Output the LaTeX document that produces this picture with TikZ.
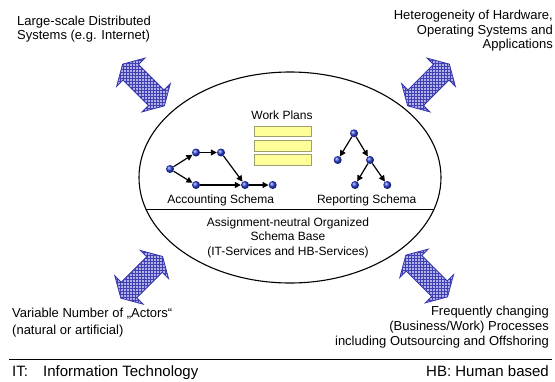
\documentclass[tikz,border=0pt]{standalone}
\usepackage{fontspec}
\setmainfont{Liberation Sans}
\usetikzlibrary{arrows.meta,patterns}
\definecolor{arrblue}{RGB}{51,51,170}
\definecolor{gridblue}{RGB}{64,64,178}
\definecolor{arrfill}{RGB}{178,178,232}
\definecolor{dotblue}{RGB}{40,60,215}
\definecolor{barfill}{RGB}{255,255,153}
\definecolor{barline}{RGB}{160,160,110}
\newcommand\dblarrow[3]{%
  \draw[blockarrow, shift={(#1,#2)}, rotate=#3]
    (29.5,0) -- (18,20) -- (18,11) -- (-18,11) -- (-18,20) -- (-29.5,0)
    -- (-18,-20) -- (-18,-11) -- (18,-11) -- (18,-20) -- cycle;}
\begin{document}
\begin{tikzpicture}[x=1pt,y=-1pt,
  lbl/.style={inner sep=0pt, font=\fontsize{13}{15}\selectfont},
  ilbl/.style={inner sep=0pt, font=\fontsize{12}{14}\selectfont},
  flbl/.style={inner sep=0pt, font=\fontsize{15}{17}\selectfont},
  dot/.style={circle, inner sep=0pt, minimum size=8pt, ball color=dotblue},
  flow/.style={-{Triangle[length=6pt,width=6pt]}, line width=1.2pt},
  bar/.style={draw=barline, fill=barfill, line width=0.6pt, minimum width=57.4pt, minimum height=10.6pt, inner sep=0pt},
  blockarrow/.style={draw=arrblue, line width=0.8pt, fill=arrfill, postaction={pattern=grid, pattern color=gridblue}}
]
\useasboundingbox (0,0) rectangle (555,381);
\fill[white] (0,0) rectangle (555,381);

% block arrows (TikZ rotate is counter-clockwise on the page)
\dblarrow{143.5}{85}{-45}
\dblarrow{428.5}{85}{45}
\dblarrow{141.7}{277.3}{45}
\dblarrow{426.7}{276}{-45}

% ellipse
\coordinate (ctr) at (290,177.5);
\draw[line width=1.1pt] (ctr) ellipse [x radius=151pt, y radius=105.5pt];
\begin{scope}
  \clip (ctr) ellipse [x radius=151pt, y radius=105.5pt];
  \coordinate (sepl) at (130,209);
  \coordinate (sepr) at (450,209);
  \draw[line width=0.9pt] (sepl) -- (sepr);
\end{scope}

% work plans
\node[ilbl, anchor=base] (wp) at (282,119.3) {Work Plans};
\node[bar] (b1) at (283,131.3) {};
\node[bar] (b2) at (283,145.5) {};
\node[bar] (b3) at (283,159.7) {};

% accounting schema
\node[dot] (A) at (170,169) {};
\node[dot] (B) at (196,152.5) {};
\node[dot] (C) at (221,152.5) {};
\node[dot] (D) at (196,185) {};
\node[dot] (E) at (245,185) {};
\node[dot] (F) at (272.7,185) {};
\draw[flow] (A) -- (B);
\draw[flow] (A) -- (D);
\draw[flow] (B) -- (C);
\draw[flow] (C) -- (E);
\draw[flow] (D) -- (E);
\draw[flow] (E) -- (F);
\node[ilbl, anchor=base] (acc) at (220.7,203.3) {Accounting Schema};

% reporting schema
\node[dot] (R1) at (354,133.3) {};
\node[dot] (R2) at (337.7,160) {};
\node[dot] (R3) at (370,160) {};
\node[dot] (R4) at (355,185) {};
\node[dot] (R5) at (387.3,185) {};
\draw[flow] (R1) -- (R2);
\draw[flow] (R1) -- (R3);
\draw[flow] (R3) -- (R4);
\draw[flow] (R3) -- (R5);
\node[ilbl, anchor=base] (rep) at (366.7,203.3) {Reporting Schema};

% schema base
\node[ilbl, anchor=base] (s1) at (288,226.7) {Assignment-neutral Organized};
\node[ilbl, anchor=base] (s2) at (288,240.7) {Schema Base};
\node[ilbl, anchor=base] (s3) at (288,255) {(IT-Services and HB-Services)};

% corner texts
\node[lbl, anchor=base west] (tl1) at (17,25) {Large-scale Distributed};
\node[lbl, anchor=base west] (tl2) at (17,39.5) {Systems (e.g. Internet)};
\node[lbl, anchor=base east] (tr1) at (553,19.5) {Heterogeneity of Hardware,};
\node[lbl, anchor=base east] (tr2) at (553,34) {Operating Systems and};
\node[lbl, anchor=base east] (tr3) at (553,48.5) {Applications};
\node[lbl, anchor=base west] (bl1) at (12,317.3) {Variable Number of „Actors“};
\node[lbl, anchor=base west] (bl2) at (12,334) {(natural or artificial)};
\node[lbl, anchor=base east] (br1) at (549,315) {Frequently changing};
\node[lbl, anchor=base east] (br2) at (549,330) {(Business/Work) Processes};
\node[lbl, anchor=base east] (br3) at (549,345) {including Outsourcing and Offshoring};

% footer
\coordinate (fl) at (9,359);
\coordinate (fr) at (552,359);
\draw[line width=0.9pt] (fl) -- (fr);
\node[flbl, anchor=base west] (it) at (12,376.5) {IT:};
\node[flbl, anchor=base west] (itx) at (43,376.5) {Information Technology};
\node[flbl, anchor=base east] (hb) at (549,376.5) {HB: Human based};
\end{tikzpicture}
\end{document}
